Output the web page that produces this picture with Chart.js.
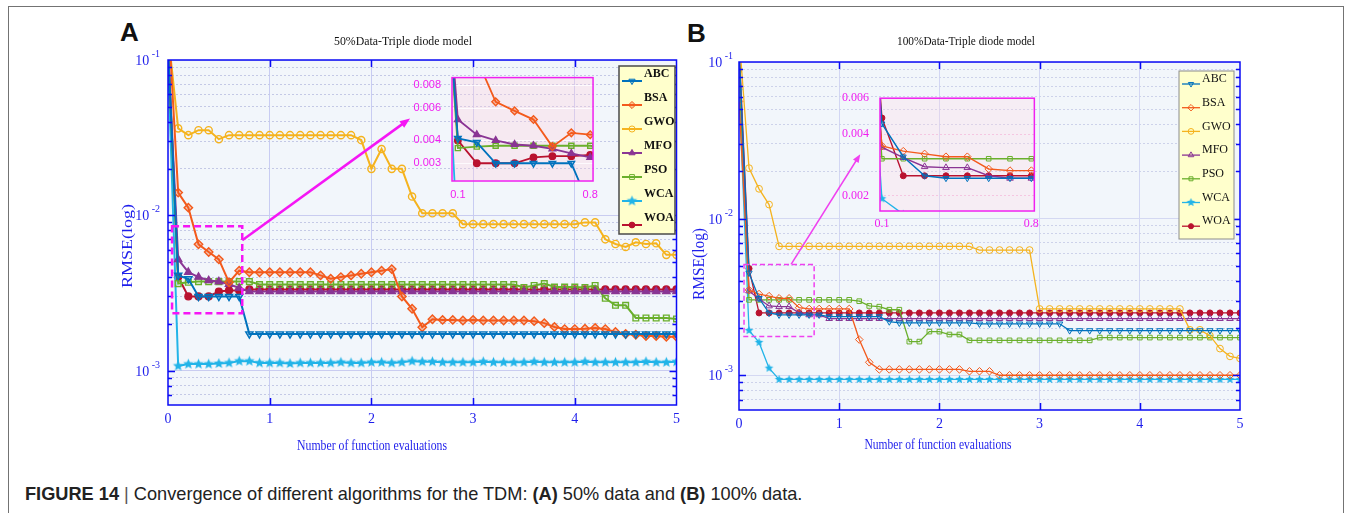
<!DOCTYPE html>
<html>
<head>
<meta charset="utf-8">
<title>Convergence of different algorithms for the TDM</title>
<script src="https://cdn.jsdelivr.net/npm/chart.js@4.4.1/dist/chart.umd.min.js"></script>
<style>
  body { margin: 0; width: 1354px; height: 513px; overflow: hidden; background: #fff; position: relative; }
  canvas { position: absolute; }
  #frame { position: absolute; left: 8px; top: 6px; width: 1336px; height: 600px; border: 1.5px solid #737373; box-sizing: border-box; }
  .tag { position: absolute; font: bold 26px "Liberation Sans", Arial, sans-serif; line-height: 26px; color: #111; }
  #caption { position: absolute; left: 25px; top: 486px; font: 16px "Liberation Sans", Arial, sans-serif; line-height: 16px; white-space: nowrap; color: #222; }
  #caption .bar { color: #555; }
</style>
</head>
<body>
<div id="frame"></div>
<div class="tag" style="left:120px;top:19px">A</div>
<div class="tag" style="left:687px;top:20px">B</div>
<canvas id="mainA" width="686" height="460" style="left:0;top:0"></canvas>
<canvas id="mainB" width="668" height="460" style="left:686px;top:0"></canvas>
<canvas id="insetA" width="200" height="145" style="left:405px;top:60px"></canvas>
<canvas id="insetB" width="210" height="150" style="left:835px;top:80px"></canvas>
<div id="caption"><b>FIGURE 14</b> <span class="bar">|</span> Convergence of different algorithms for the TDM: <b>(A)</b> 50% data and <b>(B)</b> 100% data.</div>

<script>
// ---- data ----
const names = ['ABC', 'BSA', 'GWO', 'MFO', 'PSO', 'WCA', 'WOA'];

const evals = [
  0.0, 0.1, 0.2, 0.3, 0.4, 0.5, 0.6, 0.7, 0.8, 0.9,
  1.0, 1.1, 1.2, 1.3, 1.4, 1.5, 1.6, 1.7, 1.8, 1.9,
  2.0, 2.1, 2.2, 2.3, 2.4, 2.5, 2.6, 2.7, 2.8, 2.9,
  3.0, 3.1, 3.2, 3.3, 3.4, 3.5, 3.6, 3.7, 3.8, 3.9,
  4.0, 4.1, 4.2, 4.3, 4.4, 4.5, 4.6, 4.7, 4.8, 4.9,
  5.0];

// panel A : 50% data
const abcA = [
  0.12, 0.0041, 0.0039, 0.0030, 0.0030, 0.0030, 0.0030, 0.0030, 0.00172, 0.00172,
  0.00172, 0.00172, 0.00172, 0.00172, 0.00172, 0.00172, 0.00172, 0.00172, 0.00172, 0.00172,
  0.00172, 0.00172, 0.00172, 0.00172, 0.00172, 0.00172, 0.00172, 0.00172, 0.00172, 0.00172,
  0.00172, 0.00172, 0.00172, 0.00172, 0.00172, 0.00172, 0.00172, 0.00172, 0.00172, 0.00172,
  0.00172, 0.00172, 0.00172, 0.00172, 0.00172, 0.00172, 0.00172, 0.00172, 0.00172, 0.00172,
  0.00172];
const bsaA = [
  0.2, 0.014, 0.0112, 0.0065, 0.0058, 0.0052, 0.0037, 0.0044, 0.0043, 0.0043,
  0.0043, 0.0043, 0.0043, 0.0043, 0.0043, 0.0041, 0.0039, 0.0040, 0.0041, 0.0042,
  0.0043, 0.0044, 0.0045, 0.0030, 0.0025, 0.0019, 0.00214, 0.00212, 0.00212, 0.0021,
  0.00212, 0.0021, 0.0021, 0.0021, 0.0021, 0.0021, 0.00208, 0.00202, 0.00191, 0.00185,
  0.00185, 0.00186, 0.00188, 0.00185, 0.00177, 0.00172, 0.0017, 0.00167, 0.00167, 0.00165,
  0.00165];
const gwoA = [
  0.15, 0.0363, 0.0328, 0.0353, 0.0353, 0.0309, 0.0328, 0.0328, 0.0328, 0.0328,
  0.0328, 0.0328, 0.0328, 0.0328, 0.0328, 0.0328, 0.0328, 0.0328, 0.0328, 0.0305,
  0.0199, 0.0267, 0.0199, 0.0199, 0.0132, 0.0103, 0.0103, 0.0103, 0.0103, 0.00877,
  0.00877, 0.00877, 0.00877, 0.00877, 0.00877, 0.00877, 0.00877, 0.00877, 0.00877, 0.00877,
  0.00877, 0.0090, 0.0090, 0.0070, 0.00653, 0.00625, 0.0067, 0.00653, 0.0066, 0.00556,
  0.00556];
const mfoA = [
  0.12, 0.0052, 0.0043, 0.0040, 0.0038, 0.00374, 0.0036, 0.0034, 0.00323, 0.00323,
  0.00323, 0.00323, 0.00323, 0.00323, 0.00323, 0.00323, 0.00323, 0.00323, 0.00323, 0.00323,
  0.00323, 0.00323, 0.00323, 0.00323, 0.00323, 0.00323, 0.00323, 0.00323, 0.00323, 0.00323,
  0.00323, 0.00323, 0.00323, 0.00323, 0.00323, 0.00323, 0.00323, 0.00323, 0.00323, 0.00323,
  0.00323, 0.00323, 0.00323, 0.00323, 0.00323, 0.00323, 0.00323, 0.00323, 0.00323, 0.00323,
  0.00323];
const psoA = [
  0.12, 0.00363, 0.0037, 0.00374, 0.00374, 0.00374, 0.00374, 0.00374, 0.00374, 0.00358,
  0.00358, 0.00358, 0.00358, 0.00358, 0.00358, 0.00358, 0.00358, 0.00358, 0.00358, 0.00358,
  0.00358, 0.00358, 0.00358, 0.00358, 0.00358, 0.00358, 0.00358, 0.00358, 0.00358, 0.00358,
  0.00358, 0.00358, 0.00358, 0.00358, 0.00358, 0.00343, 0.00353, 0.00363, 0.00345, 0.00345,
  0.00345, 0.00343, 0.00353, 0.00292, 0.00263, 0.00263, 0.00218, 0.00218, 0.00218, 0.00218,
  0.00215];
const wcaA = [
  0.1, 0.00107, 0.0011, 0.0011, 0.0011, 0.00111, 0.00112, 0.00115, 0.00115, 0.00112,
  0.00112, 0.00112, 0.00111, 0.00112, 0.00112, 0.00112, 0.00112, 0.00113, 0.00112, 0.00112,
  0.00113, 0.00113, 0.00112, 0.00113, 0.00115, 0.00114, 0.00114, 0.00113, 0.00113, 0.00113,
  0.00113, 0.00114, 0.00113, 0.00113, 0.00113, 0.00113, 0.00114, 0.00113, 0.00113, 0.00113,
  0.00113, 0.00114, 0.00113, 0.00113, 0.00113, 0.00113, 0.00113, 0.00114, 0.00113, 0.00113,
  0.00114];
const woaA = [
  0.12, 0.0040, 0.0030, 0.0030, 0.0030, 0.00323, 0.00328, 0.00328, 0.00333, 0.00333,
  0.00333, 0.00333, 0.00333, 0.00333, 0.00333, 0.00333, 0.00333, 0.00333, 0.00333, 0.00333,
  0.00333, 0.00333, 0.00333, 0.00333, 0.00333, 0.00333, 0.00333, 0.00333, 0.00333, 0.00333,
  0.00333, 0.00333, 0.00333, 0.00333, 0.00333, 0.00333, 0.00333, 0.00333, 0.00333, 0.00333,
  0.00333, 0.00333, 0.00333, 0.00333, 0.00333, 0.00333, 0.00333, 0.00333, 0.00333, 0.00333,
  0.00333];

// panel B : 100% data
const abcB = [
  0.12, 0.0045, 0.0031, 0.0025, 0.00243, 0.00243, 0.00243, 0.00243, 0.00243, 0.00237,
  0.00237, 0.00237, 0.00237, 0.00237, 0.00237, 0.0022, 0.00216, 0.00216, 0.00216, 0.00216,
  0.00216, 0.00216, 0.00216, 0.00216, 0.00213, 0.00213, 0.00213, 0.00213, 0.00213, 0.00213,
  0.00213, 0.00213, 0.00213, 0.00193, 0.00193, 0.00193, 0.00193, 0.00193, 0.00193, 0.00193,
  0.00193, 0.00193, 0.00193, 0.00193, 0.00193, 0.00193, 0.00193, 0.00193, 0.00193, 0.00193,
  0.00193];
const bsaB = [
  0.056, 0.0035, 0.0033, 0.0032, 0.0031, 0.0031, 0.0027, 0.00265, 0.00265, 0.00265,
  0.00265, 0.00265, 0.00169, 0.00121, 0.00109, 0.00109, 0.00109, 0.00109, 0.00109, 0.00109,
  0.00109, 0.00109, 0.00109, 0.00106, 0.00106, 0.00106, 0.0010, 0.0010, 0.0010, 0.0010,
  0.0010, 0.0010, 0.0010, 0.0010, 0.0010, 0.0010, 0.0010, 0.0010, 0.0010, 0.0010,
  0.0010, 0.0010, 0.0010, 0.0010, 0.0010, 0.0010, 0.0010, 0.0010, 0.0010, 0.0010,
  0.0010];
const gwoB = [
  0.15, 0.021, 0.0155, 0.0123, 0.00665, 0.00665, 0.00665, 0.00665, 0.00665, 0.00665,
  0.00665, 0.00665, 0.00665, 0.00665, 0.00665, 0.00665, 0.00665, 0.00665, 0.00665, 0.00665,
  0.00665, 0.00665, 0.00665, 0.00665, 0.0063, 0.0063, 0.0063, 0.0063, 0.0063, 0.0063,
  0.00265, 0.00265, 0.00265, 0.00265, 0.00265, 0.00265, 0.00265, 0.00265, 0.00265, 0.00265,
  0.00265, 0.00265, 0.00265, 0.00265, 0.00265, 0.00195, 0.00195, 0.00179, 0.00148, 0.00132,
  0.00128];
const mfoB = [
  0.12, 0.00345, 0.00307, 0.00277, 0.00274, 0.00274, 0.0025, 0.00243, 0.00243, 0.0023,
  0.0023, 0.0023, 0.0023, 0.0023, 0.0023, 0.0023, 0.0023, 0.0023, 0.0023, 0.0023,
  0.0023, 0.0023, 0.0023, 0.0023, 0.0023, 0.0023, 0.0023, 0.0023, 0.0023, 0.0023,
  0.0023, 0.0023, 0.0023, 0.0023, 0.0023, 0.0023, 0.0023, 0.0023, 0.0023, 0.0023,
  0.0023, 0.0023, 0.0023, 0.0023, 0.0023, 0.0023, 0.0023, 0.0023, 0.0023, 0.0023,
  0.0023];
const psoB = [
  0.089, 0.00303, 0.00303, 0.00303, 0.00303, 0.00303, 0.00303, 0.00303, 0.00303, 0.00303,
  0.00303, 0.00303, 0.00297, 0.00277, 0.00274, 0.00262, 0.00262, 0.00164, 0.00164, 0.0019,
  0.0019, 0.00182, 0.00182, 0.00167, 0.00167, 0.00167, 0.00167, 0.00167, 0.00167, 0.00167,
  0.00167, 0.00167, 0.00167, 0.00167, 0.00167, 0.00167, 0.00174, 0.00174, 0.00174, 0.00174,
  0.00174, 0.00174, 0.00174, 0.00174, 0.00174, 0.00174, 0.00174, 0.00174, 0.00174, 0.00174,
  0.00174];
const wcaB = [
  0.066, 0.00193, 0.00162, 0.00111, 0.00094, 0.00094, 0.00094, 0.00094, 0.00094, 0.00094,
  0.00094, 0.00094, 0.00094, 0.00094, 0.00094, 0.00094, 0.00094, 0.00094, 0.00094, 0.00094,
  0.00094, 0.00094, 0.00094, 0.00094, 0.00094, 0.00094, 0.00094, 0.00094, 0.00094, 0.00094,
  0.00094, 0.00094, 0.00094, 0.00094, 0.00094, 0.00094, 0.00094, 0.00094, 0.00094, 0.00094,
  0.00094, 0.00094, 0.00094, 0.00094, 0.00094, 0.00094, 0.00094, 0.00094, 0.00094, 0.00094,
  0.00094];
const woaB = [
  0.13, 0.0048, 0.0025, 0.0025, 0.0025, 0.0025, 0.0025, 0.0025, 0.0025, 0.0025,
  0.0025, 0.0025, 0.0025, 0.0025, 0.0025, 0.0025, 0.0025, 0.0025, 0.0025, 0.0025,
  0.0025, 0.0025, 0.0025, 0.0025, 0.0025, 0.0025, 0.0025, 0.0025, 0.0025, 0.0025,
  0.0025, 0.0025, 0.0025, 0.0025, 0.0025, 0.0025, 0.0025, 0.0025, 0.0025, 0.0025,
  0.0025, 0.0025, 0.0025, 0.0025, 0.0025, 0.0025, 0.0025, 0.0025, 0.0025, 0.0025,
  0.0025];

const seriesA = [abcA, bsaA, gwoA, mfoA, psoA, wcaA, woaA];
const seriesB = [abcB, bsaB, gwoB, mfoB, psoB, wcaB, woaB];

// axis ranges and tick labels
const rmseMin = 6.1e-4, rmseMax = 0.1;
const evalMin = 0, evalMax = 5;
const insetTicksA = [0.003, 0.004, 0.006, 0.008];
const insetTicksB = [0.002, 0.004, 0.006];
const insetEvalTicks = [0.1, 0.8];

// ---- styles ----
const palette = ['#0072BD', '#F35A1C', '#F5B31E', '#8A3594', '#6AAF2C', '#22B4E8', '#B9122F'];
const axisBlue = '#1E1EEB';
const frameBlue = '#0B0BF5';
const magenta = '#F020F0';
const serif = '"Liberation Serif", "Times New Roman", serif';
const sans = '"Liberation Sans", Arial, sans-serif';
const clear = 'rgba(255,255,255,0)';

function starImage(color, r) {
  const c = document.createElement('canvas');
  c.width = c.height = Math.ceil(r * 2 + 2);
  const g = c.getContext('2d');
  g.translate(c.width / 2, c.height / 2);
  g.beginPath();
  for (let i = 0; i < 10; i++) {
    const rr = i % 2 ? r * 0.45 : r;
    const a = -Math.PI / 2 + i * Math.PI / 5;
    g.lineTo(rr * Math.cos(a), rr * Math.sin(a));
  }
  g.closePath();
  g.fillStyle = color;
  g.fill();
  return c;
}

function isDecade(v) {
  const l = Math.log10(v);
  return Math.abs(l - Math.round(l)) < 1e-6;
}
function logTicks(lo, hi) {
  const out = [];
  for (let k = Math.floor(Math.log10(lo)); k <= Math.ceil(Math.log10(hi)); k++) {
    for (let m = 1; m <= 9; m++) {
      const v = m * Math.pow(10, k);
      if (v >= lo * 0.999 && v <= hi * 1.001) out.push(v);
    }
  }
  return out;
}

// look of each panel: marker fills and sizes
const lookA = {
  line: 2, pbw: 1.4,
  fill: ['rgba(0,114,189,0.3)', 'rgba(243,90,28,0.35)', clear, palette[3], clear, palette[5], palette[6]],
  radius: [4.2, 4.2, 3.6, 4.2, 4, 5, 3.4],
  star: starImage(palette[5], 5.5)
};
const lookB = {
  line: 1.3, pbw: 1,
  fill: [clear, clear, clear, clear, clear, palette[5], palette[6]],
  radius: [3.6, 3.8, 3.4, 3.8, 3.3, 4, 3],
  star: starImage(palette[5], 4.5)
};
const lookInsetA = Object.assign({}, lookA, {line: 1.8, radius: [3.8, 3.8, 3.4, 3.8, 3.6, 4, 3.2], star: starImage(palette[5], 4.5)});
const lookInsetB = Object.assign({}, lookB, {line: 1.4, radius: [3.4, 3.8, 3.2, 3.8, 3.2, 4, 3]});

function makeSets(series, look) {
  const shapes = ['triangle', 'rectRot', 'circle', 'triangle', 'rect', look.star, 'circle'];
  return names.map((name, i) => ({
    label: name,
    data: evals.map((e, k) => ({x: e, y: series[i][k]})),
    borderColor: palette[i],
    backgroundColor: palette[i],
    borderWidth: look.line,
    pointStyle: shapes[i],
    rotation: i === 0 ? 180 : 0,
    pointRadius: look.radius[i],
    pointBorderWidth: look.pbw,
    pointBorderColor: palette[i],
    pointBackgroundColor: look.fill[i],
    tension: 0,
    fill: false
  }));
}

// ---- plugins ----
function plotFrame(cfg) {
  return {
    id: 'plotFrame',
    beforeDraw(chart) {
      const {ctx, chartArea: a} = chart;
      ctx.save();
      ctx.fillStyle = cfg.bg;
      ctx.fillRect(a.left, a.top, a.right - a.left, a.bottom - a.top);
      ctx.restore();
    },
    afterDatasetsDraw(chart) {
      const {ctx, chartArea: a, scales: {x, y}} = chart;
      ctx.save();
      ctx.strokeStyle = cfg.color;
      ctx.lineWidth = cfg.width;
      ctx.beginPath();
      x.ticks.forEach(t => {
        if (t.value <= x.min || t.value >= x.max) return;
        const px = Math.round(x.getPixelForValue(t.value)) + 0.5;
        ctx.moveTo(px, a.top); ctx.lineTo(px, a.top + cfg.tick);
        ctx.moveTo(px, a.bottom); ctx.lineTo(px, a.bottom - cfg.tick);
      });
      y.ticks.forEach(t => {
        if (t.value <= y.min * 1.001 || t.value >= y.max * 0.999) return;
        const py = Math.round(y.getPixelForValue(t.value)) + 0.5;
        const len = isDecade(t.value) ? cfg.tick : cfg.minor;
        ctx.moveTo(a.left, py); ctx.lineTo(a.left + len, py);
        ctx.moveTo(a.right, py); ctx.lineTo(a.right - len, py);
      });
      ctx.stroke();
      ctx.strokeRect(a.left, a.top, a.right - a.left, a.bottom - a.top);

      // decade labels 10^k with a raised exponent, placed by the y scale
      ctx.fillStyle = axisBlue;
      ctx.textAlign = 'right';
      ctx.textBaseline = 'alphabetic';
      y.ticks.forEach(t => {
        if (!isDecade(t.value)) return;
        const py = y.getPixelForValue(t.value);
        const e = String(Math.round(Math.log10(t.value)));
        const right = a.left - cfg.labelGap;
        ctx.font = '10px ' + serif;
        const ew = ctx.measureText(e).width;
        ctx.fillText(e, right, py - 3);
        ctx.font = '14px ' + serif;
        ctx.fillText('10', right - ew - 2.5, py + 5);
      });
      ctx.restore();
    }
  };
}

// dashed zoom box and arrow, in data coordinates
function zoomMark(cfg) {
  return {
    id: 'zoomMark',
    afterDatasetsDraw(chart) {
      const {ctx, scales: {x, y}} = chart;
      const X = v => x.getPixelForValue(v), Y = v => y.getPixelForValue(v);
      ctx.save();
      ctx.strokeStyle = cfg.color;
      ctx.fillStyle = cfg.color;
      ctx.lineWidth = cfg.width;
      ctx.setLineDash(cfg.dash);
      ctx.strokeRect(X(cfg.box[0]), Y(cfg.box[2]), X(cfg.box[1]) - X(cfg.box[0]), Y(cfg.box[3]) - Y(cfg.box[2]));
      ctx.setLineDash([]);
      const x0 = X(cfg.from[0]), y0 = Y(cfg.from[1]), x1 = X(cfg.to[0]), y1 = Y(cfg.to[1]);
      const ang = Math.atan2(y1 - y0, x1 - x0), L = cfg.head;
      ctx.beginPath();
      ctx.moveTo(x0, y0);
      ctx.lineTo(x1 - L * 0.6 * Math.cos(ang), y1 - L * 0.6 * Math.sin(ang));
      ctx.stroke();
      ctx.beginPath();
      ctx.moveTo(x1, y1);
      ctx.lineTo(x1 - L * Math.cos(ang - 0.38), y1 - L * Math.sin(ang - 0.38));
      ctx.lineTo(x1 - L * Math.cos(ang + 0.38), y1 - L * Math.sin(ang + 0.38));
      ctx.closePath();
      ctx.fill();
      ctx.restore();
    }
  };
}

function boxLegend(cfg) {
  return {
    id: 'boxLegend',
    afterDraw(chart) {
      const ctx = chart.ctx;
      ctx.save();
      ctx.fillStyle = cfg.bg;
      ctx.fillRect(cfg.x, cfg.y, cfg.w, cfg.h);
      ctx.strokeStyle = cfg.border;
      ctx.lineWidth = cfg.bw;
      ctx.strokeRect(cfg.x, cfg.y, cfg.w, cfg.h);
      chart.data.datasets.forEach((ds, i) => {
        const ty = cfg.y + cfg.first + i * cfg.step;
        const ly = ty + cfg.lineOff;
        ctx.strokeStyle = ds.borderColor;
        ctx.lineWidth = ds.borderWidth;
        ctx.beginPath();
        ctx.moveTo(cfg.x + cfg.lx0, ly);
        ctx.lineTo(cfg.x + cfg.lx1, ly);
        ctx.stroke();
        ctx.fillStyle = ds.pointBackgroundColor;
        ctx.lineWidth = 1;
        if (Chart.helpers && Chart.helpers.drawPoint) {
          Chart.helpers.drawPoint(ctx, {pointStyle: ds.pointStyle, rotation: ds.rotation, radius: ds.pointRadius * 0.85, borderWidth: 1},
            cfg.x + (cfg.lx0 + cfg.lx1) / 2, ly);
        }
        ctx.fillStyle = '#111';
        ctx.font = cfg.font;
        ctx.textBaseline = 'middle';
        ctx.textAlign = 'left';
        ctx.fillText(ds.label, cfg.x + cfg.tx, ty);
      });
      ctx.restore();
    }
  };
}

function drawFitted(ctx, t) {
  ctx.save();
  ctx.font = t.font;
  ctx.fillStyle = t.color;
  ctx.textAlign = 'center';
  ctx.textBaseline = 'middle';
  ctx.translate(t.x, t.y);
  if (t.rot) ctx.rotate(t.rot);
  const m = ctx.measureText(t.text).width;
  ctx.scale(t.w / m, 1);
  ctx.fillText(t.text, 0, 0);
  ctx.restore();
}
function panelText(items) {
  return {
    id: 'panelText',
    afterDraw(chart) { items.forEach(t => drawFitted(chart.ctx, t)); }
  };
}

function insetBox(cfg) {
  return {
    id: 'insetBox',
    beforeDraw(chart) {
      const {ctx, chartArea: a} = chart;
      ctx.save();
      ctx.fillStyle = cfg.bg;
      ctx.fillRect(a.left, a.top, a.right - a.left, a.bottom - a.top);
      ctx.restore();
    },
    afterDraw(chart) {
      const {ctx, chartArea: a} = chart;
      ctx.save();
      ctx.strokeStyle = cfg.edge;
      ctx.lineWidth = cfg.width;
      ctx.strokeRect(a.left, a.top, a.right - a.left, a.bottom - a.top);
      ctx.restore();
    }
  };
}

// ---- chart builders ----
function mainChart(id, series, look, p) {
  new Chart(document.getElementById(id), {
    type: 'line',
    data: {datasets: makeSets(series, look)},
    options: {
      animation: false, responsive: false, events: [],
      layout: {padding: {left: 0, top: p.top, right: p.right, bottom: 0}},
      plugins: {legend: {display: false}, tooltip: {enabled: false}},
      scales: {
        x: {
          type: 'linear', min: evalMin, max: evalMax,
          ticks: {stepSize: 1, color: axisBlue, font: {family: serif, size: 14}, padding: 6, maxRotation: 0},
          grid: {drawTicks: false, lineWidth: 1,
                 color: c => (c.tick && c.tick.value > evalMin && c.tick.value < evalMax) ? p.vgrid : clear},
          border: {display: false},
          afterFit: s => { s.height = p.xh; }
        },
        y: {
          type: 'logarithmic', min: rmseMin, max: rmseMax,
          afterBuildTicks: s => { s.ticks = logTicks(rmseMin, rmseMax).map(v => ({value: v})); },
          ticks: {autoSkip: false, color: axisBlue, font: {family: serif, size: 14}, padding: p.ypad, callback: () => ''},
          grid: {drawTicks: false, lineWidth: 1,
                 color: c => (c.tick && isDecade(c.tick.value)) ? p.hgridMajor : p.hgridMinor},
          border: {display: false, dash: c => (c.tick && isDecade(c.tick.value)) ? [] : [2, 2]},
          afterFit: s => { s.width = p.yw; }
        }
      }
    },
    plugins: [
      plotFrame({bg: p.bg, color: frameBlue, width: 1.5, tick: 7, minor: 4, labelGap: p.ypad}),
      zoomMark(p.mark),
      boxLegend(p.legend),
      panelText(p.text)
    ]
  });
}

function insetChart(id, series, look, q) {
  new Chart(document.getElementById(id), {
    type: 'line',
    data: {datasets: makeSets(series, look)},
    options: {
      animation: false, responsive: false, events: [],
      layout: {padding: {left: 0, top: q.top, right: q.right, bottom: 0}},
      plugins: {legend: {display: false}, tooltip: {enabled: false}},
      scales: {
        x: {
          type: 'linear', min: q.x0, max: q.x1,
          afterBuildTicks: s => { s.ticks = insetEvalTicks.map(v => ({value: v})); },
          ticks: {autoSkip: false, color: magenta, font: q.font, padding: q.xpad, maxRotation: 0, callback: v => v.toFixed(1)},
          grid: {display: false, drawTicks: false},
          border: {display: false},
          afterFit: s => { s.height = q.xh; }
        },
        y: {
          type: 'logarithmic', min: q.y0, max: q.y1,
          afterBuildTicks: s => { s.ticks = q.ticks.map(v => ({value: v})); },
          ticks: {autoSkip: false, color: magenta, font: q.font, padding: 11, callback: v => v.toFixed(3)},
          grid: {drawTicks: false, color: q.grid, lineWidth: 1},
          border: {display: false, dash: q.dash},
          afterFit: s => { s.width = q.yw; }
        }
      }
    },
    plugins: [insetBox({bg: q.bg, edge: magenta, width: q.ew})]
  });
}

// panel A
mainChart('mainA', seriesA, lookA, {
  top: 60, right: 5, xh: 55, yw: 168, ypad: 8,
  bg: '#F2F6FB', vgrid: '#C8CCF2', hgridMajor: '#C9CCF0', hgridMinor: '#C4C9E6',
  mark: {box: [0.04, 0.73, 0.0085, 0.00234], from: [0.73, 0.0069], to: [2.38, 0.042],
         color: '#F516F5', width: 2.5, dash: [7, 4], head: 11},
  legend: {x: 619, y: 66, w: 56, h: 168, first: 8, step: 24, lineOff: 7, lx0: 3, lx1: 23, tx: 25,
           font: 'bold 12px ' + serif, bg: '#FFFFCC', border: '#4a4a4a', bw: 1.5},
  text: [
    {text: '50%Data-Triple diode model', x: 403, y: 42, w: 138, font: '13px ' + serif, color: '#111'},
    {text: 'Number of function evaluations', x: 372, y: 446, w: 150, font: '14px ' + serif, color: axisBlue},
    {text: 'RMSE(log)', x: 128, y: 246, w: 84, font: '15px ' + serif, color: axisBlue, rot: -Math.PI / 2}
  ]
});

// panel B
mainChart('mainB', seriesB, lookB, {
  top: 62, right: 114, xh: 50, yw: 53, ypad: 6,
  bg: '#F2F6FB', vgrid: '#D2D6F3', hgridMajor: '#D4D8F2', hgridMinor: '#CDD2EA',
  mark: {box: [0.05, 0.75, 0.0051, 0.00177], from: [0.52, 0.0051], to: [1.21, 0.0258],
         color: '#F040F0', width: 1.5, dash: [5, 3], head: 9},
  legend: {x: 493, y: 71, w: 55, h: 168, first: 8, step: 23.7, lineOff: 5, lx0: 3, lx1: 21, tx: 23,
           font: '12px ' + serif, bg: '#FFFFCC', border: '#8c8c8c', bw: 1},
  text: [
    {text: '100%Data-Triple diode model', x: 280, y: 42, w: 138, font: '13px ' + serif, color: '#111'},
    {text: 'Number of function evaluations', x: 252, y: 445, w: 147, font: '14px ' + serif, color: axisBlue},
    {text: 'RMSE(log)', x: 14, y: 264, w: 72, font: '16px ' + serif, color: axisBlue, rot: -Math.PI / 2}
  ]
});

// zoomed insets
insetChart('insetA', seriesA, lookInsetA, {
  top: 13, right: 7, xh: 24, yw: 47, xpad: 7,
  x0: 0.069, x1: 0.815, y0: 0.00242, y1: 0.00882, ticks: insetTicksA,
  font: {family: sans, size: 11}, grid: 'rgba(255,255,255,0.75)', dash: [],
  bg: 'rgba(255,205,222,0.32)', ew: 1.5
});
insetChart('insetB', seriesB, lookInsetB, {
  top: 13, right: 7, xh: 19, yw: 45, xpad: 6,
  x0: 0.091, x1: 0.814, y0: 0.00168, y1: 0.006, ticks: insetTicksB,
  font: {family: serif, size: 12}, grid: 'rgba(245,150,200,0.45)', dash: [2, 2],
  bg: 'rgba(255,214,228,0.3)', ew: 1.5
});

// stretch the caption to the width it has in the figure
const cap = document.getElementById('caption');
const capW = cap.getBoundingClientRect().width;
cap.style.fontSize = (16 * 778 / capW).toFixed(2) + 'px';
</script>
</body>
</html>
